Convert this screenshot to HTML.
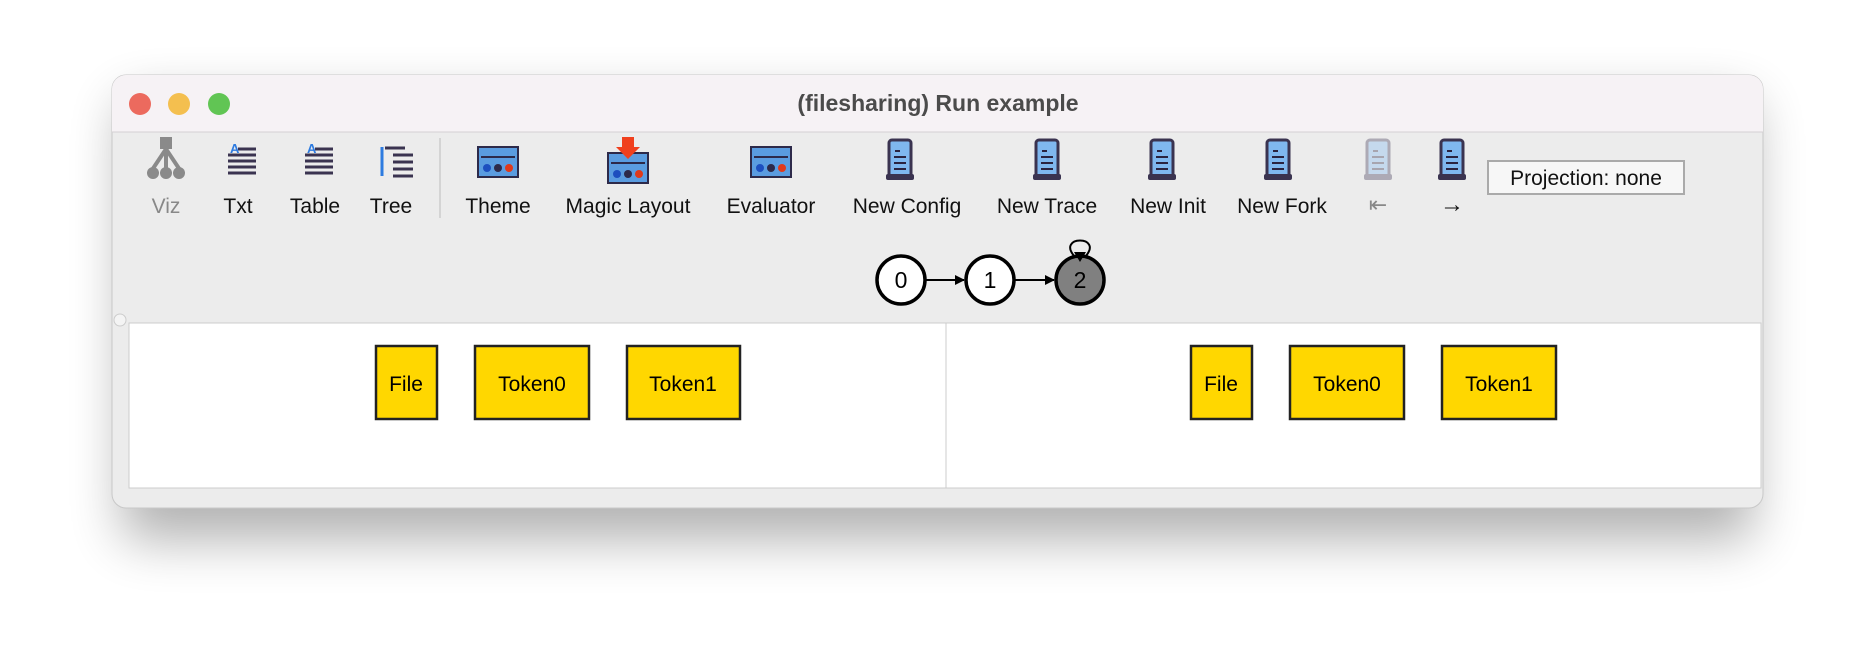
<!DOCTYPE html>
<html><head><meta charset="utf-8"><style>
body{margin:0;width:1876px;height:658px;background:#fff;overflow:hidden;font-family:"Liberation Sans",sans-serif}
svg{position:absolute;left:0;top:0}
</style></head><body>
<svg width="1876" height="658" viewBox="0 0 1876 658" font-family="Liberation Sans, sans-serif">
<defs>
<filter id="sh" x="-10%" y="-20%" width="120%" height="160%"><feGaussianBlur stdDeviation="26"/></filter>
<marker id="ar" markerWidth="10" markerHeight="10" refX="9" refY="5" orient="auto" markerUnits="userSpaceOnUse"><path d="M0,0 L10,5 L0,10z" fill="#000"/></marker>
<g id="scroll"><rect x="-11" y="-20" width="22" height="38" rx="3" fill="#7fb7ef" stroke="#3a3350" stroke-width="3"/><rect x="-14" y="14" width="28" height="6" rx="2" fill="#3a3350"/><path d="M-5,-9h5M-6,-3h12M-6,3h12M-6,9h12" stroke="#2a2340" stroke-width="2"/></g>
<g id="abacus"><rect x="-20" y="-15" width="40" height="30" fill="#5a9ce0" stroke="#2d2a4a" stroke-width="2"/><path d="M-17,-5h34" stroke="#2d2a4a" stroke-width="2"/><circle cx="-11" cy="6" r="4" fill="#1d4fbf"/><circle cx="0" cy="6" r="4" fill="#2d2a4a"/><circle cx="11" cy="6" r="4" fill="#e0391a"/></g>
</defs>
<rect x="122" y="100" width="1631" height="440" rx="14" fill="#000" opacity="0.3" filter="url(#sh)"/>
<rect x="112" y="75" width="1651" height="433" rx="14" fill="#ececec" stroke="#c8c8c8"/>
<path d="M112,132 V89 a14,14 0 0 1 14,-14 H1749 a14,14 0 0 1 14,14 V132z" fill="#f6f2f5"/>
<line x1="112" y1="132" x2="1763" y2="132" stroke="#d4d0d4"/>
<circle cx="140" cy="104" r="11" fill="#ec6a5e"/><circle cx="179" cy="104" r="11" fill="#f4bf4f"/><circle cx="219" cy="104" r="11" fill="#61c554"/>
<text x="938" y="111" font-size="23" font-weight="bold" fill="#4b4b4b" text-anchor="middle">(filesharing) Run example</text>
<g font-size="21" text-anchor="middle" fill="#111">
<text x="166" y="213" fill="#888">Viz</text><text x="238" y="213">Txt</text><text x="315" y="213">Table</text><text x="391" y="213">Tree</text>
<text x="498" y="213">Theme</text><text x="628" y="213">Magic Layout</text><text x="771" y="213">Evaluator</text><text x="907" y="213">New Config</text>
<text x="1047" y="213">New Trace</text><text x="1168" y="213">New Init</text><text x="1282" y="213">New Fork</text>
<text x="1378" y="212" fill="#888" font-size="22">⇤</text><text x="1452" y="212" font-size="24">→</text>
</g>
<line x1="440" y1="138" x2="440" y2="218" stroke="#bbb"/>
<g fill="#8a8a8a"><rect x="160" y="137" width="12" height="12"/><path d="M166,149 L152,170 M166,149 L180,170 M166,149 V170" stroke="#8a8a8a" stroke-width="4"/><circle cx="153" cy="173" r="6"/><circle cx="166" cy="173" r="6"/><circle cx="179" cy="173" r="6"/></g>
<g stroke="#3a3350" stroke-width="3"><path d="M228,155h28M228,161h28M228,167h28M228,173h28M238,149h18"/><path d="M305,155h28M305,161h28M305,167h28M305,173h28M315,149h18"/><path d="M385,148h20M393,155h20M393,162h20M393,169h20M393,176h20"/></g>
<text x="230" y="153" font-size="13" font-weight="bold" fill="#2d7be0">A</text><text x="307" y="153" font-size="13" font-weight="bold" fill="#2d7be0">A</text>
<path d="M382,147V176" stroke="#2d7be0" stroke-width="3"/>
<use href="#abacus" x="498" y="162"/><use href="#abacus" x="628" y="168"/><use href="#abacus" x="771" y="162"/>
<path d="M622,137h12v10h6l-12,12-12-12h6z" fill="#f0401e"/>
<use href="#scroll" x="900" y="160"/><use href="#scroll" x="1047" y="160"/><use href="#scroll" x="1162" y="160"/><use href="#scroll" x="1278" y="160"/><use href="#scroll" x="1378" y="160" opacity="0.35"/><use href="#scroll" x="1452" y="160"/>
<rect x="1488" y="161" width="196" height="33" fill="#f7f7f7" stroke="#aaa" stroke-width="2"/>
<text x="1586" y="185" font-size="21" text-anchor="middle" fill="#111">Projection: none</text>
<line x1="925" y1="280" x2="964" y2="280" stroke="#000" stroke-width="2" marker-end="url(#ar)"/>
<line x1="1014" y1="280" x2="1054" y2="280" stroke="#000" stroke-width="2" marker-end="url(#ar)"/>
<path d="M1075,257 C1055,235 1105,235 1085,257" fill="none" stroke="#000" stroke-width="2"/>
<circle cx="901" cy="280" r="24" fill="#fff" stroke="#000" stroke-width="3.5"/><circle cx="990" cy="280" r="24" fill="#fff" stroke="#000" stroke-width="3.5"/><circle cx="1080" cy="280" r="24" fill="#808080" stroke="#000" stroke-width="3.5"/>
<path d="M1074,252 L1080,262 L1086,252z" fill="#000"/>
<g font-size="23" text-anchor="middle"><text x="901" y="288">0</text><text x="990" y="288">1</text><text x="1080" y="288">2</text></g>
<rect x="129" y="323" width="1632" height="165" fill="#fff" stroke="#ccc"/>
<line x1="946" y1="323" x2="946" y2="488" stroke="#ccc"/>
<circle cx="120" cy="320" r="6" fill="#f4f4f4" stroke="#ccc"/>
<g fill="#ffd700" stroke="#222" stroke-width="2.5">
<rect x="376" y="346" width="61" height="73"/><rect x="475" y="346" width="114" height="73"/><rect x="627" y="346" width="113" height="73"/>
<rect x="1191" y="346" width="61" height="73"/><rect x="1290" y="346" width="114" height="73"/><rect x="1442" y="346" width="114" height="73"/>
</g>
<g font-size="21" text-anchor="middle" fill="#000">
<text x="406" y="391">File</text><text x="532" y="391">Token0</text><text x="683" y="391">Token1</text>
<text x="1221" y="391">File</text><text x="1347" y="391">Token0</text><text x="1499" y="391">Token1</text>
</g>
</svg>
</body></html>
